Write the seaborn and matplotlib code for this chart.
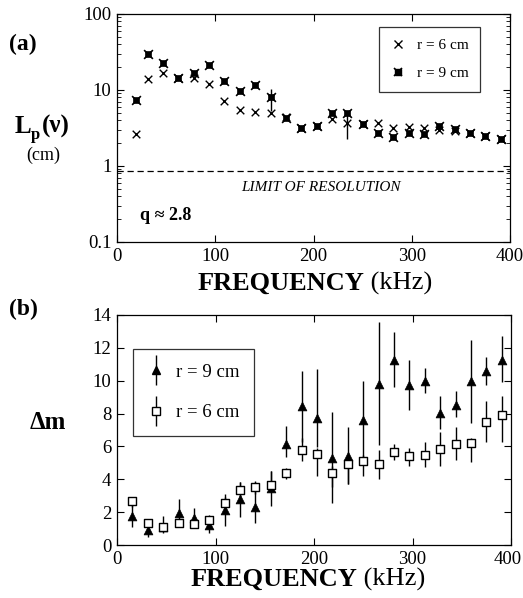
import numpy as np
import pandas as pd
import seaborn as sns
import matplotlib
matplotlib.use("Agg")
import matplotlib.pyplot as plt
import matplotlib.transforms as mtrans
from matplotlib.lines import Line2D

# ---------------- data ----------------
freq_a = [19, 31.25, 46.9, 62.5, 78.1, 93.75, 109.4, 125, 140.6, 156.25, 171.9, 187.5,
          203.1, 218.75, 234.4, 250, 265.6, 281.25, 296.9, 312.5, 328.1, 343.75, 359.4, 375, 390.6]
lp_r6 = [2.62, 13.9, 16.6, 14.6, 14.3, 12.1, 7.2, 5.45, 5.1, 4.93, 4.4, 3.2,
         3.4, 4.1, 3.64, 3.6, 3.64, 3.19, 3.3, 3.2, 2.98, 2.9, 2.75, 2.45, 2.28]
lp_r9 = [7.4, 29.7, 22.4, 14.3, 16.6, 21.3, 13.0, 9.8, 11.6, 8.0, 4.32, 3.2,
         3.4, 5.03, 5.0, 3.6, 2.75, 2.4, 2.75, 2.62, 3.4, 3.06, 2.74, 2.45, 2.3]
# error bars in panel (a)
err_a_freq = [156.25, 234.4]
err_a_low = [5.34, 2.25]
err_a_high = [10.2, 5.34]
resolution_limit = 0.86

freq_b = [15.6, 31.25, 46.9, 62.5, 78.1, 93.75, 109.4, 125, 140.6, 156.25, 171.9, 187.5,
          203.1, 218.75, 234.4, 250, 265.6, 281.25, 296.9, 312.5, 328.1, 343.75, 359.4, 375, 390.6]
dm_r9 = [1.76, 0.91, 1.1, 1.92, 1.62, 1.21, 2.12, 2.77, 2.32, 3.47, 6.16, 8.48,
         7.72, 5.31, 5.39, 7.62, 9.8, 11.25, 9.76, 10.0, 8.02, 8.55, 9.96, 10.57, 11.29]
dm_r9_low = [1.07, 0.5, 0.71, 1.07, 1.07, 0.73, 1.15, 1.68, 1.35, 2.36, 5.35, 6.26,
             5.96, 3.54, 3.74, 5.25, 6.06, 9.6, 8.24, 9.23, 7.07, 7.78, 7.4, 9.76, 9.9]
dm_r9_high = [2.5, 1.21, 1.76, 2.77, 2.27, 1.7, 3.13, 3.84, 3.84, 4.5, 7.27, 10.6,
              10.7, 8.08, 7.17, 10.0, 13.6, 12.97, 11.27, 10.77, 9.05, 9.4, 12.5, 11.45, 12.7]
dm_r6 = [2.67, 1.31, 1.11, 1.31, 1.27, 1.52, 2.53, 3.37, 3.54, 3.68, 4.38, 5.8,
         5.56, 4.4, 4.95, 5.09, 4.91, 5.66, 5.41, 5.5, 5.86, 6.12, 6.2, 7.47, 7.94]
dm_r6_low = [2.3, 1.1, 0.9, 1.1, 1.05, 1.2, 2.2, 2.9, 3.1, 3.3, 4.0, 5.1,
             4.2, 2.56, 3.7, 4.18, 4.04, 5.15, 4.8, 4.75, 4.81, 5.15, 5.05, 6.26, 6.26]
dm_r6_high = [2.95, 1.5, 1.3, 1.5, 1.5, 1.8, 2.9, 3.84, 3.9, 4.5, 4.7, 6.5,
              5.9, 4.8, 5.4, 5.5, 5.8, 6.16, 5.9, 6.26, 6.87, 7.17, 6.5, 8.75, 9.09]

xticks = [0, 100, 200, 300, 400]
yticks_b = [0, 2, 4, 6, 8, 10, 12, 14]
yticks_a = [0.1, 1, 10, 100]
yticklabels_a = ["0.1", "1", "10", "100"]

# ---------------- style ----------------
sns.set_theme(style="ticks")
SERIF = ["Liberation Serif", "DejaVu Serif"]
plt.rcParams["font.family"] = SERIF
plt.rcParams.update({
    "xtick.direction": "in", "ytick.direction": "in",
    "xtick.top": True, "ytick.right": True,
    "axes.linewidth": 0.9, "axes.edgecolor": "black",
    "xtick.color": "black", "ytick.color": "black",
    "text.color": "black", "axes.labelcolor": "black",
    "xtick.labelsize": 13.5, "ytick.labelsize": 13.5,
})

W, H = 523, 598
fig = plt.figure(figsize=(W / 100, H / 100), dpi=100)

def px_axes(l, t, r, b):
    return fig.add_axes([l / W, 1 - b / H, (r - l) / W, (b - t) / H])

def ftext(x, y, s, **kw):
    return fig.text(x / W, 1 - y / H, s, **kw)

# ---------------- panel (a) ----------------
axa = px_axes(117, 14, 510, 242)
dfa6 = pd.DataFrame({"f": freq_a, "v": lp_r6})
dfa9 = pd.DataFrame({"f": freq_a, "v": lp_r9})
sns.scatterplot(data=dfa9, x="f", y="v", ax=axa, marker="s", s=22, color="black",
                edgecolor="black", linewidth=0.5, zorder=3)
sns.scatterplot(data=dfa9, x="f", y="v", ax=axa, marker="x", s=40, color="black",
                linewidth=1.2, zorder=4)
sns.scatterplot(data=dfa6, x="f", y="v", ax=axa, marker="x", s=30, color="black",
                linewidth=1.0, zorder=4)
axa.vlines(err_a_freq, err_a_low, err_a_high, color="black", lw=1.0)
axa.axhline(resolution_limit, color="black", lw=0.9, ls=(0, (5, 3)))
axa.set_yscale("log")
axa.set_xlim(0, 400)
axa.set_ylim(0.1, 100)
axa.set_xticks(xticks)
axa.set_yticks(yticks_a)
axa.set_yticklabels(yticklabels_a)
axa.set_xlabel("")
axa.set_ylabel("")
axa.tick_params(which="major", length=5, width=0.8, pad=4)
axa.tick_params(which="minor", length=3, width=0.6)
axa.text(0.519, 0.237, "LIMIT OF RESOLUTION", transform=axa.transAxes, ha="center",
         va="center", style="italic", fontsize=11)
axa.text(0.058, 0.118, "q ≈ 2.8", transform=axa.transAxes, ha="left", va="center",
         fontweight="bold", fontsize=13)
h6 = Line2D([], [], marker="x", ls="none", color="black", markersize=5.5, mew=1.0)
h9a = Line2D([], [], marker="s", ls="none", color="black", markersize=4.5)
h9b = Line2D([], [], marker="x", ls="none", color="black", markersize=6, mew=1.2)
leg = axa.legend([h6, (h9a, h9b)], ["r = 6 cm", "r = 9 cm"], loc="upper left",
                 bbox_to_anchor=(0.667, 0.943), borderaxespad=0, frameon=True,
                 fancybox=False, edgecolor="black", fontsize=11, labelspacing=0.95,
                 handlelength=1.0, handletextpad=0.7, borderpad=0.75)
leg.get_frame().set_linewidth(0.9)

# ---------------- panel (b) ----------------
axb = px_axes(117, 315, 511, 545)
dfb9 = pd.DataFrame({"f": freq_b, "v": dm_r9})
dfb6 = pd.DataFrame({"f": freq_b, "v": dm_r6})
axb.vlines(freq_b, dm_r9_low, dm_r9_high, color="black", lw=1.0, zorder=2)
axb.vlines(freq_b, dm_r6_low, dm_r6_high, color="black", lw=1.0, zorder=2)
sns.scatterplot(data=dfb9, x="f", y="v", ax=axb, marker="^", s=40, color="black",
                edgecolor="black", zorder=3)
sns.scatterplot(data=dfb6, x="f", y="v", ax=axb, marker="s", s=36, facecolor="white",
                edgecolor="black", linewidth=1.0, zorder=4)
axb.set_xlim(0, 400)
axb.set_ylim(0, 14)
axb.set_xticks(xticks)
axb.set_yticks(yticks_b)
axb.set_xlabel("")
axb.set_ylabel("")
axb.tick_params(which="major", length=5, width=0.8, pad=4)
bar = dict(marker="|", ls="none", color="black", markersize=22, mew=1.0)
hb9 = (Line2D([], [], **bar), Line2D([], [], marker="^", ls="none", color="black", markersize=6))
hb6 = (Line2D([], [], **bar), Line2D([], [], marker="s", ls="none", mfc="white",
                                     mec="black", markersize=6, mew=1.0))
legb = axb.legend([hb9, hb6], ["r = 9 cm", "r = 6 cm"], loc="upper left",
                  bbox_to_anchor=(0.04, 0.853), borderaxespad=0, frameon=True,
                  fancybox=False, edgecolor="black", fontsize=13.5, labelspacing=1.25,
                  handlelength=0.9, handletextpad=0.6, borderpad=0.8)
legb.get_frame().set_linewidth(0.9)

# nudge the last x tick label of panel (b) so it stays inside the figure
last_lbl = axb.get_xticklabels()[-1]
last_lbl.set_transform(last_lbl.get_transform() +
                       mtrans.ScaledTranslation(-3 / 100, 0, fig.dpi_scale_trans))

# ---------------- labels ----------------
fig.canvas.draw()
r = fig.canvas.get_renderer()
for cx, y in [(315, 290), (308, 586)]:
    t = ftext(0, y, "FREQUENCY", fontsize=19, fontweight="bold", va="baseline")
    t2 = ftext(0, y, " (kHz)", fontsize=19, va="baseline")
    w1 = t.get_window_extent(r).width
    w2 = t2.get_window_extent(r).width
    x0 = cx - (w1 + w2) / 2
    t.set_position((x0 / W, 1 - y / H))
    t2.set_position(((x0 + w1) / W, 1 - y / H))

ftext(9, 50, "(a)", fontsize=17, fontweight="bold", va="baseline")
ftext(9, 315, "(b)", fontsize=17, fontweight="bold", va="baseline")
ftext(15, 133, "L", fontsize=18, fontweight="bold", va="baseline")
ftext(31, 139, "p", fontsize=12, fontweight="bold", va="baseline")
ftext(42, 133, "(ν)", fontsize=18, fontweight="bold", va="baseline")
ftext(43, 160, "(cm)", fontsize=13, ha="center", va="baseline")
ftext(30, 429, "Δm", fontsize=18, fontweight="bold", va="baseline")

fig.savefig("out.png", dpi=100)
